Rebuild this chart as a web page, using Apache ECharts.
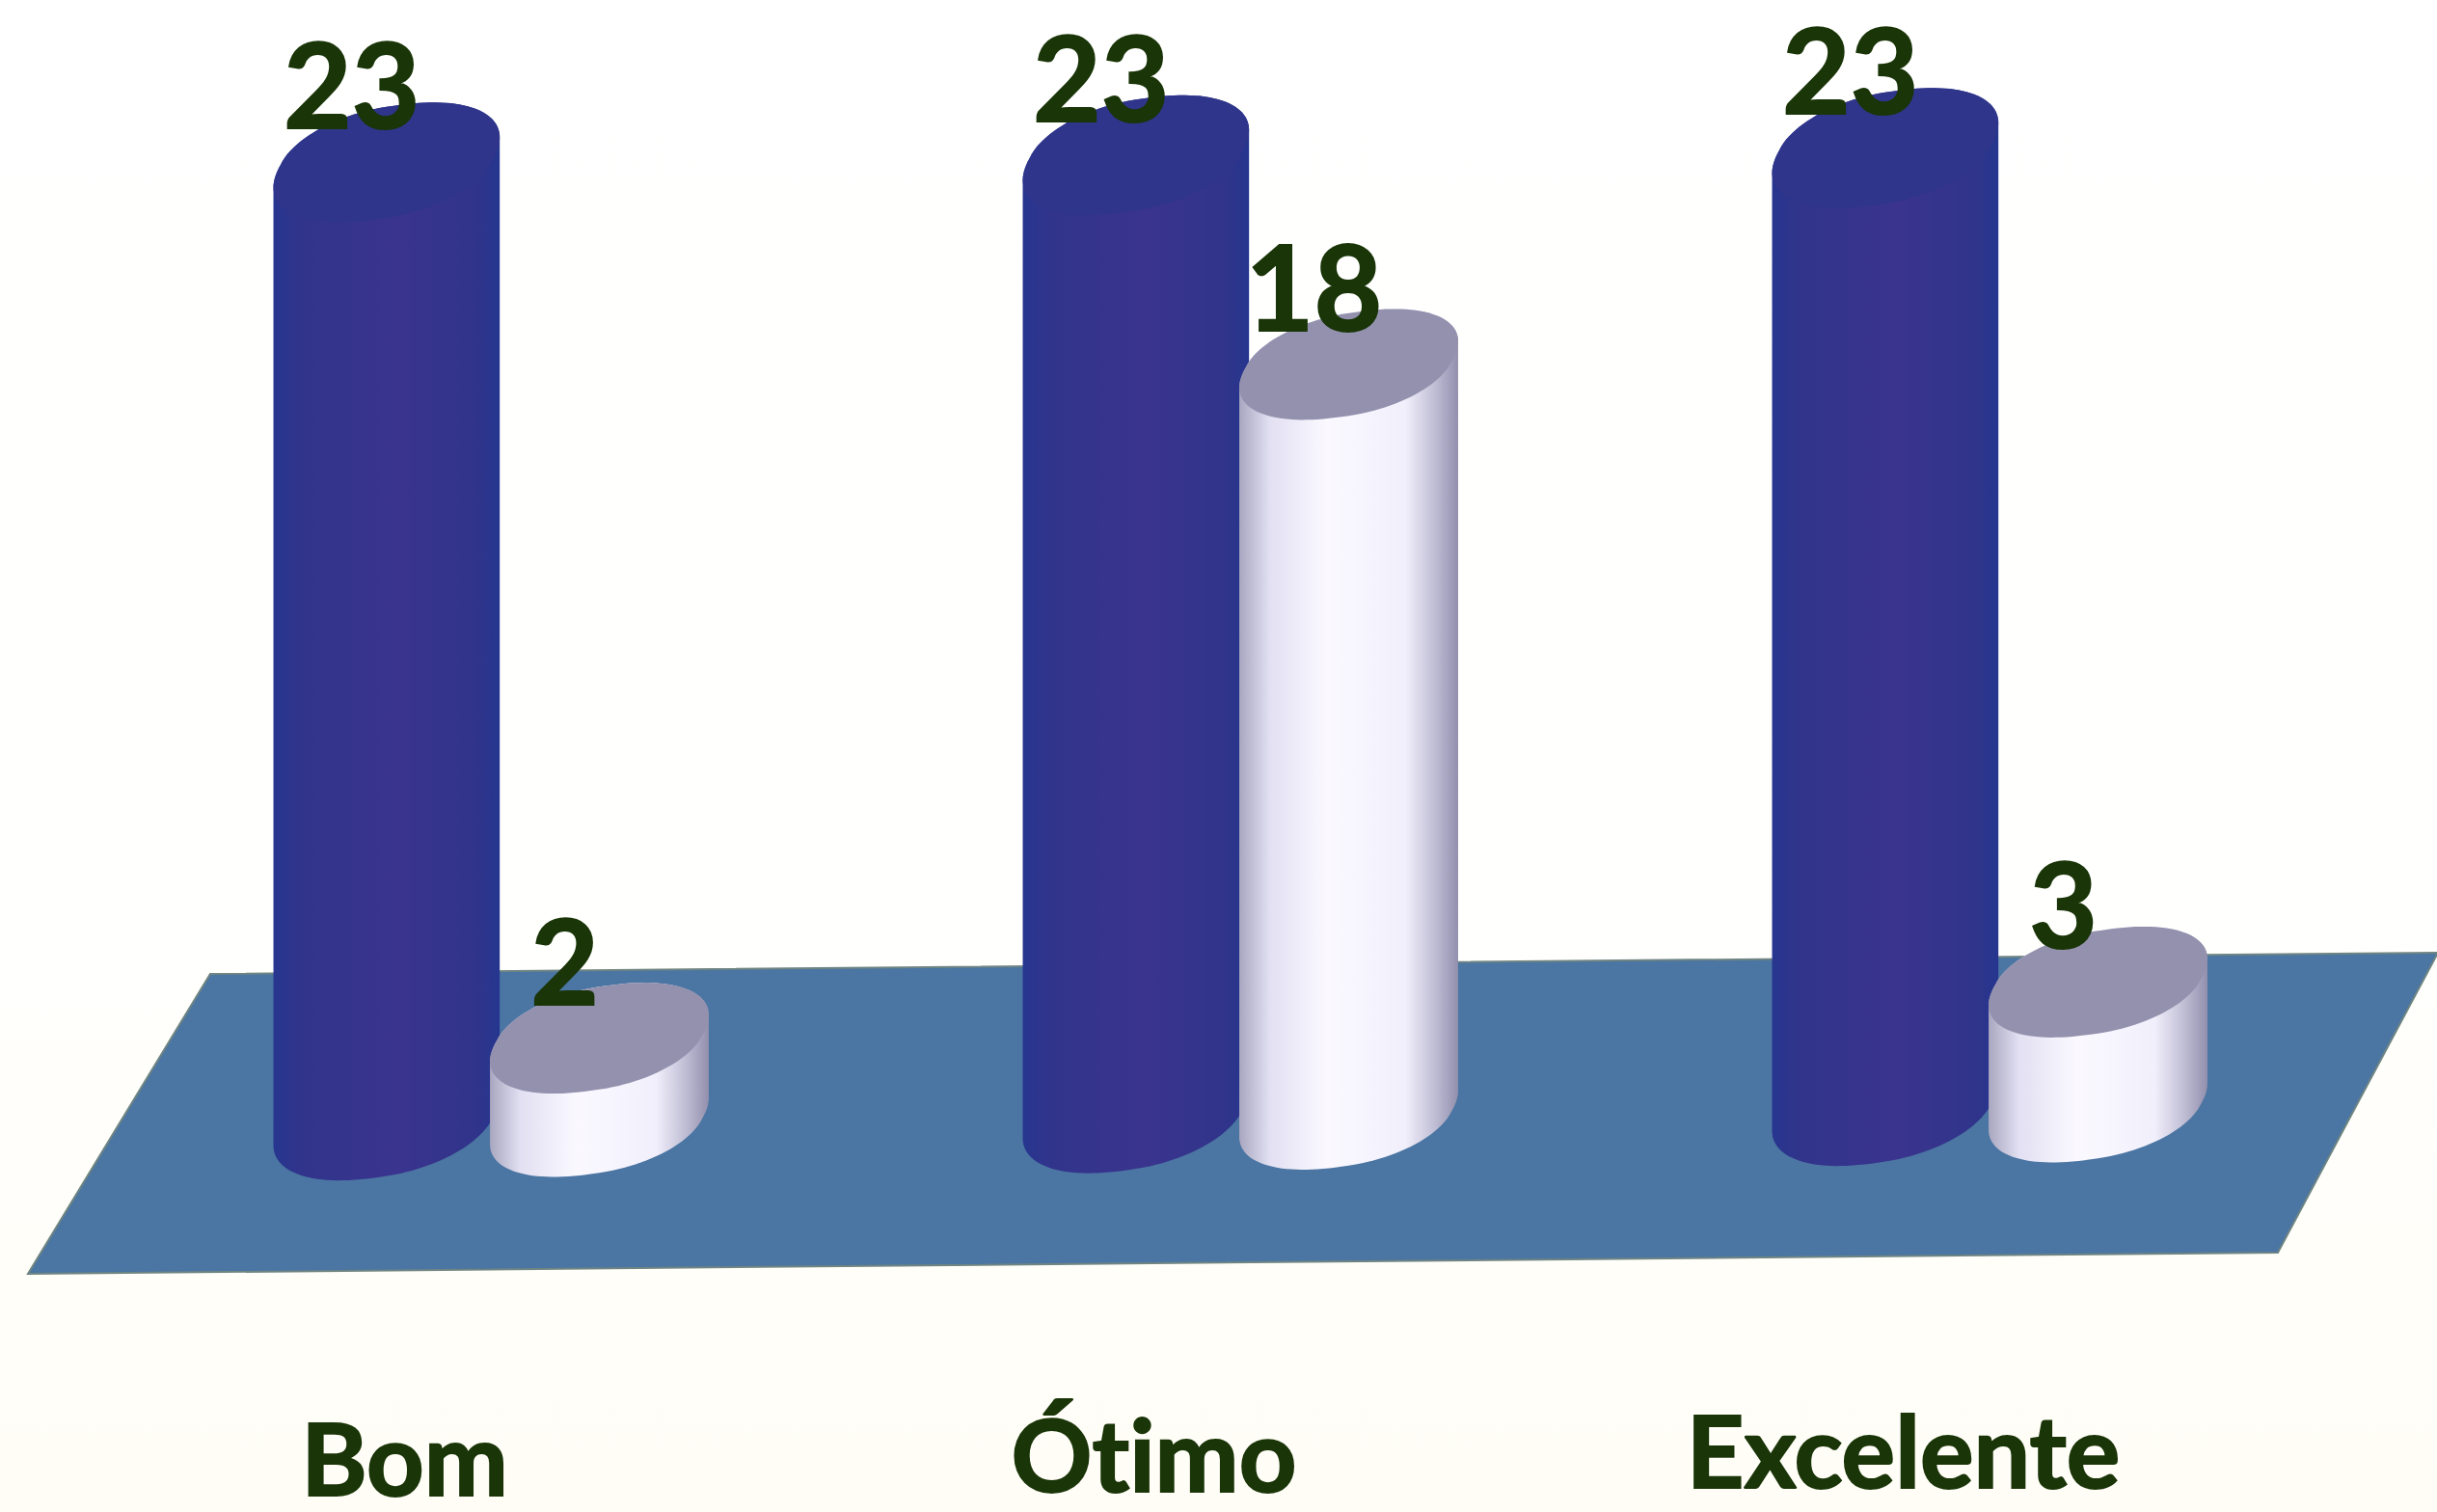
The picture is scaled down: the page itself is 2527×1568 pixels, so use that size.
<!DOCTYPE html>
<html>
<head>
<meta charset="utf-8">
<style>html,body{margin:0;padding:0;background:#fff}#c{width:2527px;height:1568px}text{font-variant-ligatures:none;font-feature-settings:"liga" 0}</style>
<script src="https://cdn.jsdelivr.net/npm/echarts@6/dist/echarts.min.js"></script>
</head>
<body>
<div id="c"></div>
<script>
var categories = ['Bom', 'Ótimo', 'Excelente'];
var blueValues = [23, 23, 23];
var whiteValues = [2, 18, 3];

var chart = echarts.init(document.getElementById('c'), null, {renderer: 'svg'});
var LG = echarts.graphic.LinearGradient;
var TILT = -7.5, PHI = -23 * Math.PI / 180, POW = 0.93;
var INK = '#1a3508';

function spow(a) { return (a < 0 ? -1 : 1) * Math.pow(Math.abs(a), POW); }

function ellipsePts(cx, cy, X, Y, from, to) {
  var pts = [];
  for (var d = from; d <= to; d += 3) {
    var t = d * Math.PI / 180;
    pts.push([cx + X * spow(Math.cos(t)), cy + Y * spow(Math.sin(t + PHI))]);
  }
  return pts;
}

function cylinder(look) {
  return function (params, api) {
    var i = api.value(0), v = api.value(1);
    var band = api.size([1, 0])[0];
    var base = api.coord([i, 0]), top = api.coord([i, v]);
    var cx = base[0] + look.offset * band;
    var dy = TILT * i + look.dy;
    var X = look.rx * band, Y = look.ry * band;
    var by = base[1] + dy, ty = top[1] + dy;
    var body = ellipsePts(cx, by, X, Y, 0, 180).concat(ellipsePts(cx, ty, X, Y, 180, 360));
    return {
      type: 'group',
      children: [
        {type: 'polygon', shape: {points: body}, style: {fill: look.body}},
        {type: 'polygon', shape: {points: ellipsePts(cx, ty, X, Y, 0, 360)}, style: {fill: look.top}},
        {type: 'text', z2: 50, style: {
          text: String(v), x: cx - 36, y: ty - 32, align: 'center', verticalAlign: 'bottom',
          fontFamily: 'Lato', fontWeight: 'bold', fontSize: 122, fill: INK,
          stroke: INK, lineWidth: 2, lineHeight: 100
        }}
      ]
    };
  };
}

var blueLook = {
  offset: -0.024, dy: 0, rx: 0.151, ry: 0.08, top: '#2f358a',
  body: new LG(0, 0, 1, 0, [
    {offset: 0, color: '#27368f'}, {offset: 0.12, color: '#31348b'}, {offset: 0.55, color: '#3a348e'},
    {offset: 0.9, color: '#30348a'}, {offset: 1, color: '#25368f'}
  ])
};
var whiteLook = {
  offset: 0.26, dy: 1, rx: 0.146, ry: 0.074, top: '#9391ae',
  body: new LG(0, 0, 1, 0, [
    {offset: 0, color: '#a9a7c0'}, {offset: 0.14, color: '#e2e0f2'}, {offset: 0.4, color: '#fbf9ff'},
    {offset: 0.76, color: '#f1effb'}, {offset: 0.9, color: '#bdbbd2'}, {offset: 1, color: '#918fac'}
  ])
};

function floor(params, api) {
  var c = params.coordSys;
  var y0 = api.coord([0, 0])[1];
  return {
    type: 'polygon',
    shape: {points: [
      [c.x - 2, y0 + 159], [c.x + c.width, y0 + 137],
      [c.x + c.width + 166, y0 - 174], [c.x + 187, y0 - 152]
    ]},
    style: {fill: '#4b75a2', stroke: '#6f8583', lineWidth: 2}
  };
}

function labelStyle(top) {
  return {fontFamily: 'Lato', fontWeight: 'bold', fontSize: 104, lineHeight: 84, color: INK,
    textBorderColor: INK, textBorderWidth: 2, padding: [top, 0, 0, 0]};
}

chart.setOption({
  animation: false,
  backgroundColor: new LG(0, 0, 0, 1, [{offset: 0, color: '#ffffff'}, {offset: 0.6, color: '#fffffd'}, {offset: 1, color: '#fffdf6'}]),
  grid: {left: 31, right: 165, top: 82, bottom: 406, outerBoundsMode: 'none'},
  xAxis: {
    type: 'category', data: categories,
    axisLine: {show: false}, axisTick: {show: false}, splitLine: {show: false},
    axisLabel: {
      margin: 298, interval: 0,
      formatter: function (val, idx) { return '{c' + idx + '|' + val + '}'; },
      rich: {c0: labelStyle(17), c1: labelStyle(9), c2: labelStyle(0)}
    }
  },
  yAxis: {type: 'value', min: 0, max: 25, show: false, splitLine: {show: false}},
  tooltip: {show: false},
  series: [
    {type: 'custom', name: 'Piso', silent: true, z: 1, renderItem: floor, data: [[0, 0]], encode: {x: 0, y: 1}},
    {type: 'custom', name: 'A', silent: true, z: 2, renderItem: cylinder(blueLook),
      data: blueValues.map(function (v, i) { return [i, v]; }), encode: {x: 0, y: 1}},
    {type: 'custom', name: 'B', silent: true, z: 3, renderItem: cylinder(whiteLook),
      data: whiteValues.map(function (v, i) { return [i, v]; }), encode: {x: 0, y: 1}}
  ]
});
</script>
</body>
</html>
